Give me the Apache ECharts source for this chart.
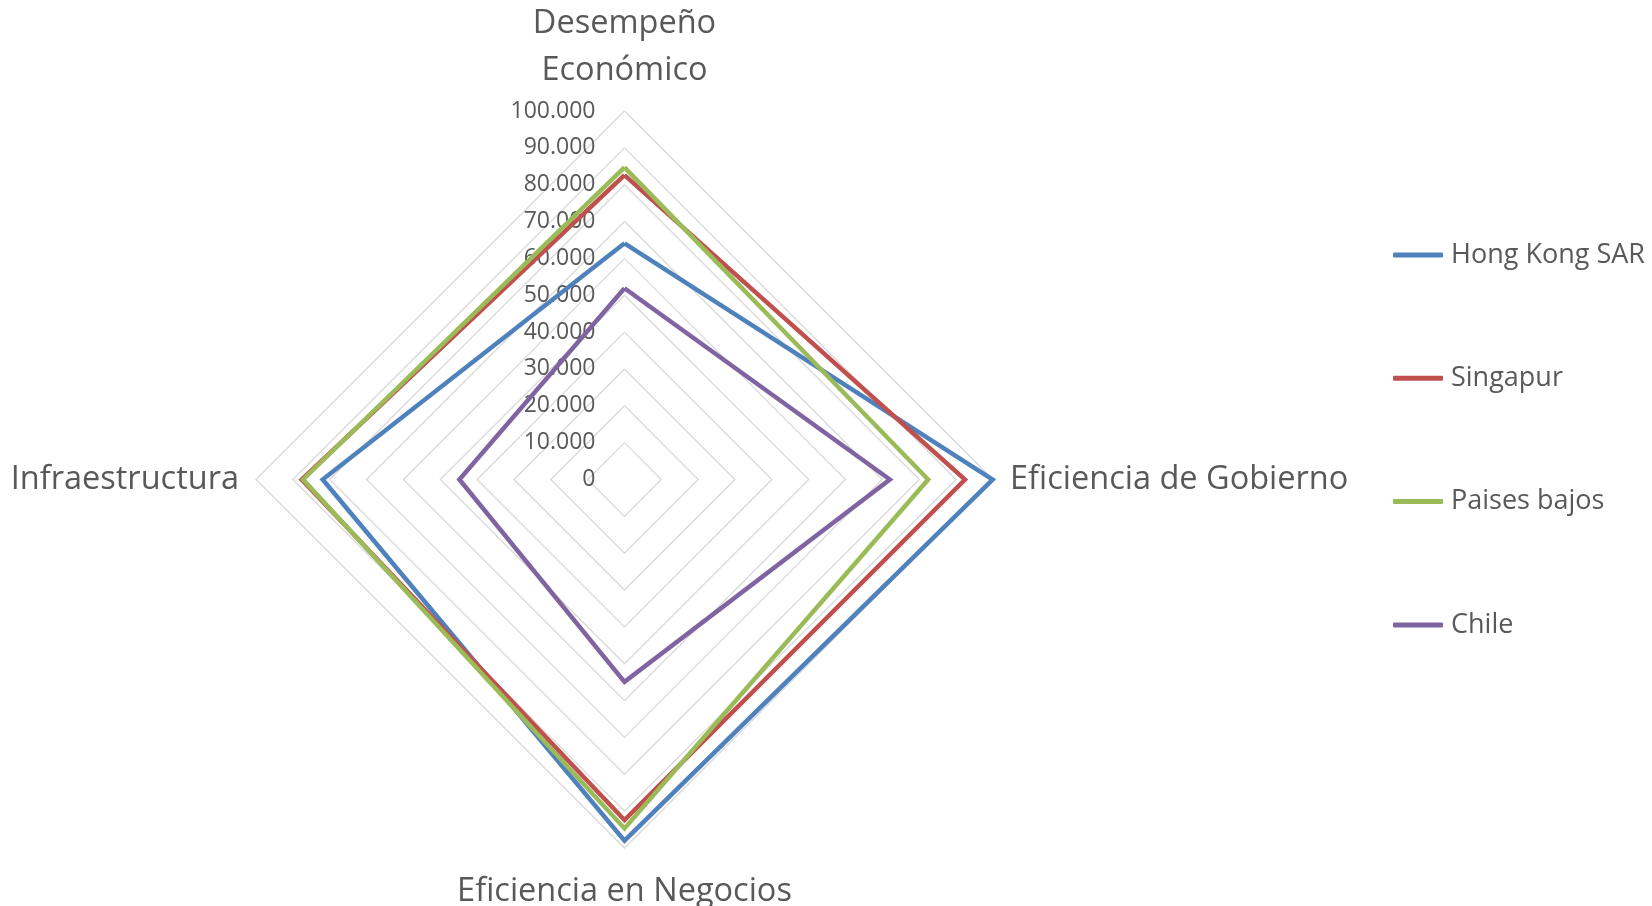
<!DOCTYPE html>
<html>
<head>
<meta charset="utf-8">
<title>Radar</title>
<script src="https://cdn.jsdelivr.net/npm/echarts@6/dist/echarts.min.js"></script>
<style>
  html, body { margin: 0; padding: 0; background: #fff; }
  #chart { width: 1652px; height: 906px; }
</style>
</head>
<body>
<div id="chart"></div>
<script>
  // categories in the order they appear clockwise from the top
  const categories = ['Desempeño\nEconómico', 'Eficiencia de Gobierno', 'Eficiencia en Negocios', 'Infraestructura'];
  const tickLabels = ['0', '10.000', '20.000', '30.000', '40.000', '50.000', '60.000', '70.000', '80.000', '90.000', '100.000'];

  const seriesNames = ['Hong Kong SAR', 'Singapur', 'Paises bajos', 'Chile'];
  const hongKong = [64.1, 99.9, 98.0, 81.9];
  const singapur = [82.6, 92.4, 92.4, 87.6];
  const paisesBajos = [84.7, 82.4, 94.7, 87.2];
  const chile = [51.9, 72.0, 54.9, 44.8];
  const colors = ['#4F81BD', '#C0504D', '#9BBB59', '#8064A2'];

  // echarts lays indicators out counter-clockwise, so flip the order
  const order = [0, 3, 2, 1];
  const pick = (arr) => order.map((i) => arr[i]);

  const FONT = '"Open Sans", "Noto Sans", sans-serif';
  const chart = echarts.init(document.getElementById('chart'), null, { renderer: 'canvas' });

  const indicator = pick(categories).map((name, i) => {
    const ind = { name: name, min: 0, max: 100 };
    if (i === 0) ind.axisLabel = { show: true };
    return ind;
  });

  const values = [hongKong, singapur, paisesBajos, chile];

  chart.setOption({
    animation: false,
    color: colors,
    textStyle: { fontFamily: FONT },
    legend: {
      orient: 'vertical',
      left: 1393,
      top: 240,
      padding: 0,
      itemWidth: 50,
      itemHeight: 5,
      itemGap: 93.3,
      icon: 'roundRect',
      textStyle: { fontFamily: FONT, fontSize: 27, color: '#595959', lineHeight: 30, padding: [0, 0, 0, 3] },
      data: seriesNames
    },
    radar: {
      center: [624.5, 479.5],
      radius: 368.5,
      shape: 'polygon',
      splitNumber: 10,
      nameGap: 17,
      indicator: indicator,
      axisName: { color: '#595959', fontSize: 32.5, fontFamily: FONT, lineHeight: 47, padding: [3, 0, 0, 0] },
      axisLine: { show: false },
      axisTick: { show: false },
      axisLabel: {
        show: false,
        margin: 29,
        color: '#595959',
        fontSize: 23,
        fontFamily: FONT,
        padding: [4, 0, 0, 0],
        formatter: (v) => tickLabels[Math.round(v / 10)]
      },
      splitLine: { lineStyle: { color: '#D9D9D9', width: 1.3 } },
      splitArea: { show: false }
    },
    series: [{
      type: 'radar',
      symbol: 'none',
      data: seriesNames.map((n, i) => ({
        name: n,
        value: pick(values[i]),
        lineStyle: { color: colors[i], width: 4.5, join: 'miter' },
        itemStyle: { color: colors[i] }
      }))
    }]
  });
</script>
</body>
</html>
